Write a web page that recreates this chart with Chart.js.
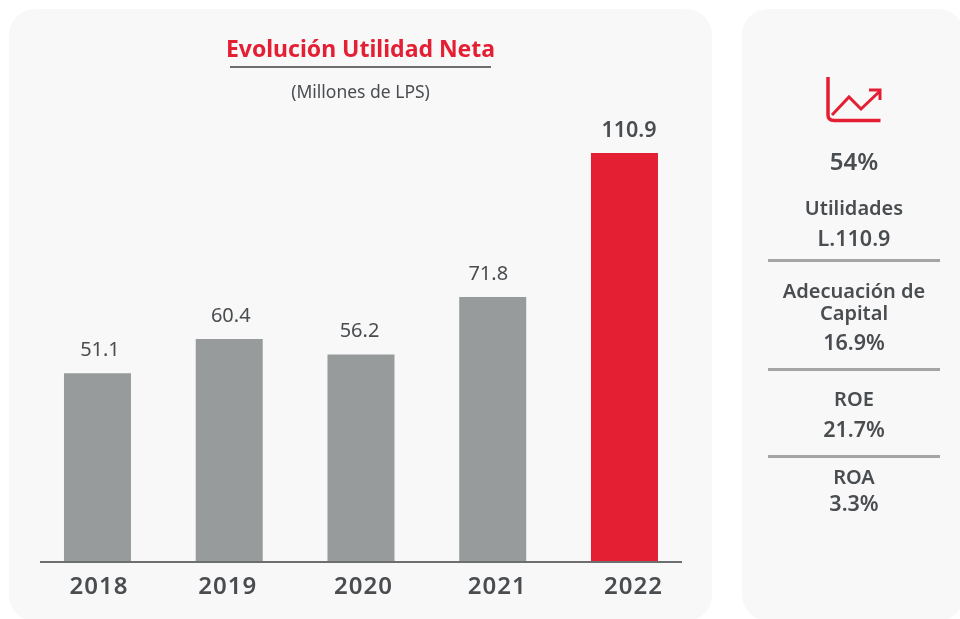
<!DOCTYPE html>
<html>
<head>
<meta charset="utf-8">
<script src="https://cdn.jsdelivr.net/npm/chart.js@4"></script>
<style>
  html, body { margin: 0; padding: 0; background: #fff; }
  body { width: 960px; height: 619px; position: relative; overflow: hidden; font-family: "Noto Sans", sans-serif; color: #4a4d50; }
  .panel { position: absolute; background: #f8f8f8; border-radius: 26px; }
  #left { left: 9px; top: 9px; width: 703px; height: 612px; }
  #right { left: 742px; top: 9px; width: 222px; height: 612px; }
  #chart { position: absolute; left: 0; top: 0; }
  .t { position: absolute; text-align: center; white-space: nowrap; }
  #title { left: 160px; width: 401px; top: 33px; font-size: 23px; line-height: 30px; font-weight: 700; color: #e41e33; }
  #titleRule { position: absolute; left: 230px; top: 66px; width: 261px; height: 2px; background: #6d6e70; }
  #sub { left: 160px; width: 401px; top: 80px; font-size: 17.5px; line-height: 22px; }
  .side { left: 743px; width: 222px; font-weight: 600; font-size: 20px; line-height: 23px; }
  .num { font-size: 21.5px; }
  .rule { position: absolute; left: 768px; width: 172px; height: 3px; background: #a3a5a6; }
  #icon { position: absolute; left: 824px; top: 74px; }
</style>
</head>
<body>
<div class="panel" id="left"></div>
<div class="panel" id="right"></div>
<canvas id="chart" width="960" height="619"></canvas>

<div class="t" id="title">Evolución Utilidad Neta</div>
<div id="titleRule"></div>
<div class="t" id="sub">(Millones de LPS)</div>

<svg id="icon" width="60" height="52" viewBox="0 0 60 52" fill="none" stroke="#e41e33" stroke-width="3">
  <path d="M4 3 V41 Q4 46.5 10 46.5 H56.5" stroke-width="3.5" />
  <path d="M8 41 L25 23 L37 35 L56 17" />
  <path d="M45 16 H56 V26" />
</svg>

<div class="t side" style="top:149px;font-size:24px;">54%</div>
<div class="t side" style="top:196px;">Utilidades</div>
<div class="t side num" style="top:226px;">L.110.9</div>
<div class="rule" style="top:259px;"></div>
<div class="t side" style="top:279px;">Adecuación de</div>
<div class="t side" style="top:301px;">Capital</div>
<div class="t side num" style="top:330px;">16.9%</div>
<div class="rule" style="top:368px;"></div>
<div class="t side" style="top:387px;">ROE</div>
<div class="t side num" style="top:417px;">21.7%</div>
<div class="rule" style="top:455px;"></div>
<div class="t side" style="top:465px;">ROA</div>
<div class="t side num" style="top:491px;">3.3%</div>

<script>
const years = ['2018', '2019', '2020', '2021', '2022'];
const utilidad = [51.1, 60.4, 56.2, 71.8, 110.9];
const barColors = ['#989b9b', '#989b9b', '#989b9b', '#989b9b', '#e41e33'];

// the source image doesn't centre its labels on the bars, so nudge them
const yearNudge = [1.5, -1.5, 2.5, 4.5, 9];
const valueNudge = [2.5, 1.5, -1.5, -4.5, 4.5];

const barLabels = {
  id: 'barLabels',
  afterDatasetsDraw(chart) {
    const { ctx, scales: { x, y } } = chart;
    ctx.save();

    // baseline
    ctx.fillStyle = '#6d6e70';
    ctx.fillRect(40, Math.round(y.getPixelForValue(0)) - 1, 642, 2);

    ctx.textAlign = 'center';
    ctx.textBaseline = 'middle';
    utilidad.forEach((v, i) => {
      const px = x.getPixelForTick(i);
      const isLast = i === utilidad.length - 1;
      ctx.fillStyle = '#4a4d50';
      ctx.letterSpacing = '0px';
      ctx.font = isLast ? '600 21.5px "Noto Sans"' : '400 20px "Noto Sans"';
      ctx.fillText(v.toFixed(1), px + valueNudge[i], y.getPixelForValue(v) - (isLast ? 22 : 23));
      ctx.letterSpacing = '1px';
      ctx.font = '600 24px "Noto Sans"';
      ctx.fillText(years[i], px + yearNudge[i], 587);
    });
    ctx.restore();
  }
};

new Chart(document.getElementById('chart'), {
  type: 'bar',
  data: {
    labels: years,
    datasets: [{
      data: utilidad,
      backgroundColor: barColors,
      barPercentage: 0.5085,
      categoryPercentage: 1,
    }],
  },
  options: {
    responsive: false,
    animation: false,
    layout: { padding: { left: 31.6, right: 269.65, top: 119.5, bottom: 57.5 } },
    scales: {
      x: { display: false },
      y: { display: false, min: 0, max: 120 },
    },
    plugins: { legend: { display: false }, tooltip: { enabled: false } },
  },
  plugins: [barLabels],
});
</script>
</body>
</html>
